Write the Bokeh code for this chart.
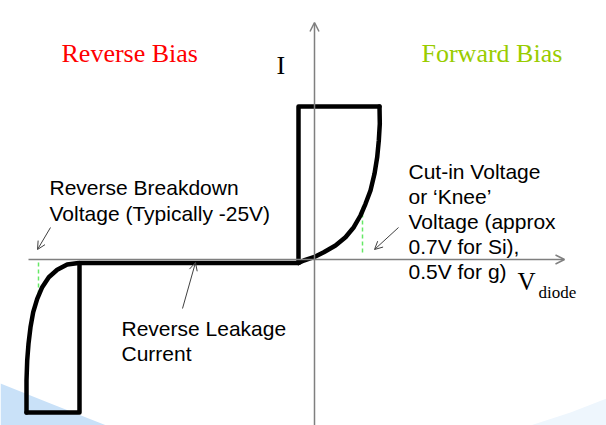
from bokeh.plotting import figure
from bokeh.models import Range1d, Arrow, OpenHead, Label
from bokeh.embed import file_html
from bokeh.resources import INLINE

# ---- data (abstract V / I units; origin at the axes crossing) ----
leak_v = [-23.5, -1.6]
leak_i = [-0.35, -0.35]

fwd_box_v = [-1.6, -1.6, 6.5]
fwd_box_i = [-0.35, 15.3, 15.3]

fwd_curve_v = [6.5, 6.53, 6.43, 6.27, 6.0, 5.6, 5.1, 4.6, 3.93, 3.1, 2.1, 0.93, -0.07, -1.07, -1.6]
fwd_curve_i = [15.3, 13.57, 11.9, 10.23, 8.57, 6.9, 5.57, 4.4, 3.23, 2.23, 1.4, 0.73, 0.23, -0.1, -0.35]

rev_box_v = [-23.5, -23.5, -28.8]
rev_box_i = [-0.35, -15.3, -15.3]

rev_curve_v = [-23.6, -24.73, -25.73, -26.57, -27.23, -27.73, -28.13, -28.4, -28.6, -28.73, -28.8, -28.8]
rev_curve_i = [-0.35, -0.5, -1.03, -1.77, -2.77, -3.93, -5.27, -6.77, -8.43, -10.1, -12.1, -15.3]

knee_v = [4.8, 4.8]
knee_i = [5.3, 0.6]
breakdown_v = [-27.6, -27.6]
breakdown_i = [-0.3, -3.8]

bg_left_v = [-31.4, -26.4, -20.8, -31.4]
bg_left_i = [-12.4, -14.4, -16.6, -16.6]
bg_right_v = [21.6, 25.6, 29.2, 29.2]
bg_right_i = [-16.6, -15.3, -13.9, -16.6]

cutin_lines = ["Cut-in Voltage", "or \u2018Knee\u2019", "Voltage (approx", "0.7V for Si),", "0.5V for g)"]
breakdown_lines = ["Reverse Breakdown", "Voltage (Typically -25V)"]
leakage_lines = ["Reverse Leakage", "Current"]

p = figure(width=606, height=425, x_range=Range1d(-31.4, 29.2), y_range=Range1d(-16.6, 25.9),
           x_axis_type=None, y_axis_type=None, toolbar_location=None, output_backend="svg",
           min_border=0, outline_line_color=None)
p.grid.visible = False
p.background_fill_color = "white"
p.border_fill_color = "white"

# decorative slide background
p.patch(bg_left_v, bg_left_i, fill_color="#C9E1F8", line_color=None)
p.patch(bg_right_v, bg_right_i, fill_color="#EEF6FD", line_color=None)

# axes
axis_col = "#7F7F7F"
p.add_layout(Arrow(end=OpenHead(size=9, line_color=axis_col, line_width=1.5),
                   x_start=-28.6, y_start=0, x_end=25.0, y_end=0,
                   line_color=axis_col, line_width=1.5))
p.add_layout(Arrow(end=OpenHead(size=9, line_color=axis_col, line_width=1.5),
                   x_start=0, y_start=-17, x_end=0, y_end=23.7,
                   line_color=axis_col, line_width=1.5))

# green dashed markers
p.line(knee_v, knee_i, line_color="#66E866", line_width=1.5, line_dash="4 3")
p.line(breakdown_v, breakdown_i, line_color="#66E866", line_width=1.5, line_dash="4 3")

# characteristic
lw = 4.5
for xs, ys in [(leak_v, leak_i), (fwd_box_v, fwd_box_i), (fwd_curve_v, fwd_curve_i),
               (rev_box_v, rev_box_i), (rev_curve_v, rev_curve_i)]:
    p.line(xs, ys, line_color="black", line_width=lw, line_join="round", line_cap="round")

# annotation arrows
ann_col = "#404040"
for xs, ys, xe, ye in [(-26.4, 3.2, -27.7, 1.0), (8.4, 3.2, 6.0, 1.0), (-13.2, -4.9, -11.9, -0.3)]:
    p.add_layout(Arrow(end=OpenHead(size=8, line_color=ann_col, line_width=1),
                       x_start=xs, y_start=ys, x_end=xe, y_end=ye,
                       line_color=ann_col, line_width=1))

serif = "Liberation Serif"
sans = "Liberation Sans"

def lab(x, y, t, font, size, color="black"):
    p.add_layout(Label(x=x, y=y, text=t, text_font=font, text_font_size=size,
                       text_color=color, text_baseline="alphabetic", text_align="left"))

lab(-25.3, 20.6, "Reverse Bias", serif, "26px", "#FF0000")
lab(10.7, 20.6, "Forward Bias", serif, "26px", "#99CC00")
lab(-3.8, 19.4, "I", serif, "26px")
lab(20.3, -2.2, "V", serif, "25px")
lab(22.4, -3.3, "diode", serif, "17px")

for k, t in enumerate(breakdown_lines):
    lab(-26.5, 7.2 - 2.6 * k, t, sans, "21px")
for k, t in enumerate(cutin_lines):
    lab(9.4, 8.8 - 2.5 * k, t, sans, "21px")
for k, t in enumerate(leakage_lines):
    lab(-19.3, -6.9 - 2.5 * k, t, sans, "21px")

open("out.html", "w").write(file_html(p, INLINE))
